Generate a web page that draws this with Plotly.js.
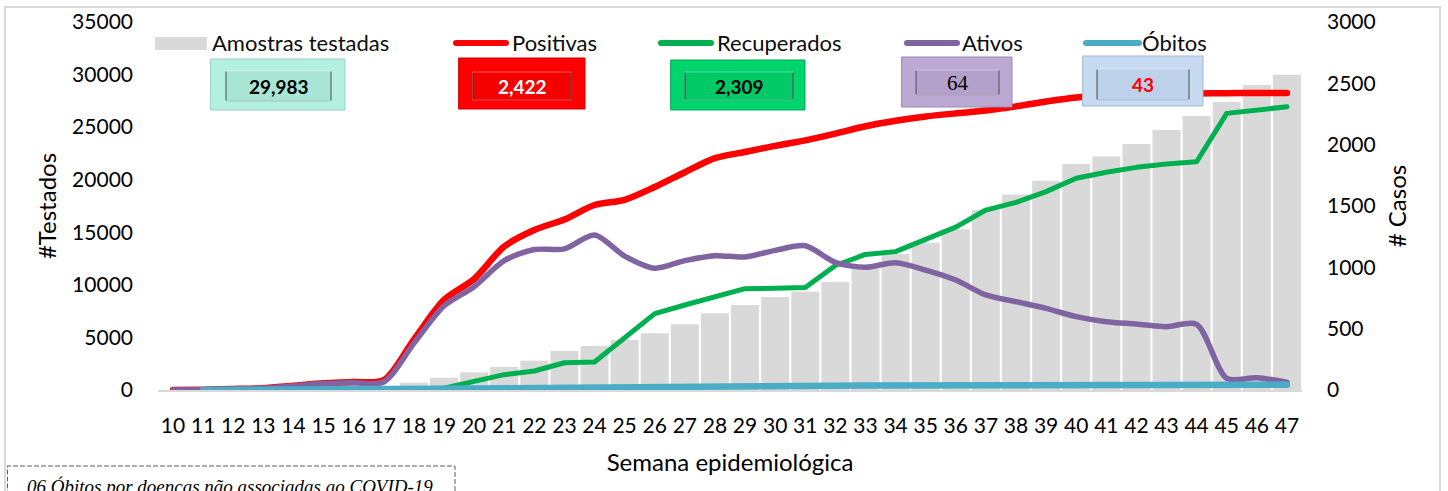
<!DOCTYPE html>
<html><head><meta charset="utf-8">
<script src="https://cdn.plot.ly/plotly-3.0.1.min.js"></script>
<style>
html,body{margin:0;padding:0;background:#fff;overflow:hidden}
#chart{width:1448px;height:491px}
.js-plotly-plot .scatterlayer path.js-line{stroke-linecap:round;stroke-linejoin:round}
.js-plotly-plot .shapelayer path{stroke-linecap:round}
</style></head><body><div id="chart"></div>
<script>
// ---- data ----
const weeks = [10,11,12,13,14,15,16,17,18,19,20,21,22,23,24,25,26,27,28,29,30,31,32,33,34,35,36,37,38,39,40,41,42,43,44,45,46,47];
const amostras = [20,40,60,90,130,190,260,380, 700,1170,1680,2190,2790,3710,4180,4750,5400,6250, 7290,8080,8840,9380,10300,11720,12930,14000,15300,17110, 18600,19900,21500,22200,23400,24740,26050,27400,29000,29983];
const positivas = [1,3,8,15,35,55,65,80, 410,734,905,1170,1305,1390,1508,1550,1655,1775, 1890,1940,1990,2035,2090,2150,2195,2230,2255,2278, 2312,2352,2385,2400,2408,2414,2418,2420,2421,2422];
const recuperados = [null,null,null,null,null,null,null,0, 2,15,70,125,155,222,228,430,623,693, 760,826,829,835,1015,1105,1128,1225,1328,1467, 1530,1617,1726,1775,1815,1842,1861,2255,2283,2309];
const ativos = [1,3,8,14,33,52,60,65, 380,685,842,1055,1145,1150,1264,1092,993,1055, 1095,1085,1138,1176,1040,1000,1038,978,897,775, 720,666,598,557,538,516,535,95,100,64];
const obitos = [null,0,0,1,1,2,2,3, 5,8,12,15,18,20,22,25,27,29, 30,31,32,33,35,36,37,38,39,40, 40,41,41,42,42,42,43,43,43,43];
const seriesNames = ['Amostras testadas','Positivas','Recuperados','Ativos','Óbitos'];
const xTitle = 'Semana epidemiológica';
const yTitle = '#Testados';
const y2Title = '# Casos';
const noteText = '06 Óbitos por doenças não associadas ao COVID-19';

// ---- layout helpers ----
const L = 158, R = 1302, T = 22, B = 390;
const px = x => (x - L) / (R - L);
const py = y => (B - y) / (B - T);
const FONT = 'Lato, "Open Sans", sans-serif';
const last = a => a[a.length - 1];
const fmt = v => v.toLocaleString('en-US');

const colors = {bar:'#D9D9D9', pos:'#FF0000', rec:'#00B050', atv:'#8064A2', obi:'#4BACC6'};

const traces = [
  {type:'bar', x:weeks, y:amostras, name:seriesNames[0], marker:{color:colors.bar}, yaxis:'y', hoverinfo:'x+y'},
  {type:'scatter', mode:'lines', x:weeks, y:positivas, name:seriesNames[1], yaxis:'y2', line:{color:colors.pos, width:6.5, shape:'spline', smoothing:0.8}},
  {type:'scatter', mode:'lines', x:weeks, y:recuperados, name:seriesNames[2], yaxis:'y2', line:{color:colors.rec, width:5}},
  {type:'scatter', mode:'lines', x:weeks, y:ativos, name:seriesNames[3], yaxis:'y2', line:{color:colors.atv, width:5.5, shape:'spline', smoothing:0.8}},
  {type:'scatter', mode:'lines', x:weeks, y:obitos, name:seriesNames[4], yaxis:'y2', line:{color:colors.obi, width:6.5}}
];

const shapes = [];
const annotations = [];
function rect(x0,x1,y0,y1,fill,line,lw,dash){
  shapes.push({type:'rect', xref:'paper', yref:'paper', x0:px(x0), x1:px(x1), y0:py(y1), y1:py(y0),
    fillcolor:fill, line:{color:line, width:lw, dash:dash||'solid'}, layer:'above'});
}
function seg(x0,y0,x1,y1,color,w){
  shapes.push({type:'line', xref:'paper', yref:'paper', x0:px(x0), x1:px(x1), y0:py(y0), y1:py(y1), line:{color:color,width:w}, layer:'above'});
}
function text(t,x,y,opts){
  annotations.push(Object.assign({xref:'paper', yref:'paper', x:px(x), y:py(y), text:t, showarrow:false,
    xanchor:'left', yanchor:'middle', font:{family:FONT, size:22, color:'#0D0D0D'}}, opts||{}));
}

// chart-area border and note box
rect(5,1440,7,540,'rgba(0,0,0,0)','#D9D9D9',2);
rect(7.5,455,466,540,'rgba(0,0,0,0)','#595959',1,'4px,3px');
text(noteText, 25, 486, {font:{family:'"Liberation Serif", "DejaVu Serif", serif', size:19, color:'#000', style:'italic'}, xanchor:'left'});

// legend
rect(155,207,37,50,colors.bar,colors.bar,0);
text(seriesNames[0],210,43);
seg(456,43,506,43,colors.pos,6);  text(seriesNames[1],510,43);
seg(661,43,711,43,colors.rec,6);  text(seriesNames[2],715,43);
seg(907,43,957,43,colors.atv,6);  text(seriesNames[3],960,43);
seg(1086,43,1139,43,colors.obi,6); text(seriesNames[4],1140,43);

// value boxes (bevelled look)
function vbox(x0,x1,y0,y1,ix0,ix1,iy0,iy1,fill,ifill,edge,label,tcolor,font){
  rect(x0,x1,y0,y1,fill,edge,1);
  rect(ix0,ix1,iy0,iy1,ifill,'rgba(255,255,255,0.35)',1);
  seg(ix0,iy0+1,ix0,iy1-1,'rgba(50,50,50,0.6)',1.5);
  seg(ix1,iy0+1,ix1,iy1-1,'rgba(50,50,50,0.6)',1.5);
  seg(ix0+1,iy1,ix1-1,iy1,'rgba(0,0,0,0.18)',1);
  text(label,(ix0+ix1)/2,(iy0+iy1)/2,{xanchor:'center', font:Object.assign({color:tcolor},font)});
}
const boldFont = {family:FONT, size:19, weight:'bold'};
vbox(211,345,59,110, 226,331,71,101, '#B3F0E0','#A8E5D4','#9CCFC0', fmt(last(amostras)),'#000',boldFont);
vbox(459,585,58,109, 473,571,72,100, '#FF0000','#F50000','#D00000', fmt(last(positivas)),'#FFFFFF',boldFont);
vbox(671,805,60,110, 685,793,72,100, '#00D46C','#00C965','#00A855', fmt(last(recuperados)),'#000',boldFont);
vbox(902,1012,57,107, 916,999,70,95, '#BCA9D3','#B3A1CB','#9A88B3', fmt(last(ativos)),'#000',{family:'"Liberation Serif", serif', size:21});
vbox(1083,1203,56,106, 1097,1189,69,100, '#C6DAF2','#BDD1EA','#A4B9D3', fmt(last(obitos)),'#FF0000',boldFont);

const tickFont = {family:FONT, size:21, color:'#000'};
const titleFont = {family:FONT, size:24, color:'#000'};
const layout = {
  width:1448, height:491,
  margin:{l:L, r:1448-R, t:T, b:491-B, pad:0},
  paper_bgcolor:'#fff', plot_bgcolor:'#fff',
  showlegend:false, bargap:0.07,
  xaxis:{range:[9.5,47.5], tickmode:'array', tickvals:weeks, ticktext:weeks.map(String), tickfont:tickFont,
    showgrid:false, zeroline:false, showline:true, linecolor:'#D9D9D9', linewidth:2, ticks:'', ticklabelstandoff:16,
    title:{text:xTitle, font:titleFont, standoff:18}},
  yaxis:{range:[0,35000], dtick:5000, tickformat:'d', tickfont:tickFont, showgrid:false, zeroline:false, showline:false,
    ticks:'', ticklabelstandoff:24, title:{text:yTitle, font:titleFont, standoff:8}},
  yaxis2:{range:[0,3000], dtick:500, tickformat:'d', tickfont:tickFont, overlaying:'y', side:'right', showgrid:false,
    zeroline:false, showline:false, ticks:'', ticklabelstandoff:24, title:{text:y2Title, font:titleFont, standoff:14}},
  shapes:shapes, annotations:annotations
};
Plotly.newPlot('chart', traces, layout, {displayModeBar:false, staticPlot:true});
</script></body></html>
